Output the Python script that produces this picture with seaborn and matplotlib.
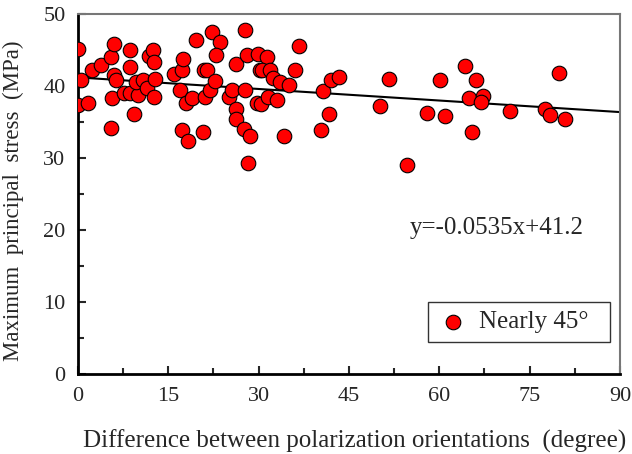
import numpy as np
import pandas as pd
import matplotlib
matplotlib.use("Agg")
import matplotlib.pyplot as plt
import seaborn as sns
from matplotlib.ticker import MultipleLocator

# datos
diff_deg = [0.05, 0.45, 0.0, 1.7, 2.4, 3.9, 5.4, 6.0, 5.9, 6.3, 5.6, 5.5, 7.6, 8.6, 9.9,
            8.7, 8.7, 9.3, 9.6, 10.8, 11.4, 11.8, 12.5, 12.7, 12.8, 12.6, 15.9, 17.2, 17.5,
            16.9, 17.9, 17.2, 18.3, 18.9, 19.6, 20.8, 20.9, 21.5, 21.1, 21.9, 22.8, 22.2,
            23.6, 22.9, 25.0, 25.5, 26.2, 26.3, 27.6, 28.6, 28.3, 27.8, 26.3, 28.0, 27.8,
            29.9, 29.7, 30.2, 31.4, 30.6, 31.9, 32.4, 33.6, 35.1, 36.7, 36.0, 30.4, 31.6,
            33.0, 34.2, 40.7, 41.6, 40.4, 42.0, 43.4, 50.2, 51.7, 54.6, 57.9, 60.1, 61.0,
            64.3, 66.1, 65.0, 67.3, 66.9, 65.4, 71.7, 77.6, 78.4, 79.9, 80.9]
max_stress = [45.1, 40.9, 37.4, 37.6, 42.2, 42.9, 44.0, 45.9, 41.5, 40.8, 38.4, 34.2, 39.0,
              39.1, 38.8, 45.0, 42.7, 36.1, 40.5, 40.8, 39.7, 44.2, 45.0, 43.3, 41.0, 38.5,
              41.7, 42.2, 43.7, 39.4, 37.7, 33.9, 32.3, 38.3, 46.4, 33.6, 42.3, 42.2, 38.5,
              39.4, 40.7, 47.5, 46.1, 44.3, 38.5, 39.4, 36.8, 35.4, 34.1, 33.0, 29.3, 47.8,
              43.0, 44.3, 39.5, 44.5, 37.6, 42.2, 44.1, 42.3, 42.3, 41.1, 40.6, 40.2, 45.6,
              42.3, 37.5, 38.5, 38.0, 33.0, 39.3, 36.1, 33.9, 40.8, 41.3, 37.2, 41.0, 29.0,
              36.3, 40.8, 35.8, 42.8, 40.8, 38.4, 38.6, 37.8, 33.6, 36.5, 36.8, 36.0, 41.8,
              35.4]
slope = -0.0535
intercept = 41.2
fit_x = [0, 90]

df = pd.DataFrame({"diff": diff_deg, "stress": max_stress})
fit = pd.DataFrame({"x": fit_x})
fit["y"] = slope * fit["x"] + intercept

sns.set_style("ticks")
plt.rcParams["font.family"] = ["Liberation Serif", "DejaVu Serif"]

fig = plt.figure(figsize=(6.32, 4.54), dpi=100)
ax = fig.add_axes([0.1234, 0.1762, 0.8576, 0.7928])

sns.lineplot(data=fit, x="x", y="y", color="black", linewidth=1.5, ax=ax, zorder=1)
sns.scatterplot(data=df, x="diff", y="stress", s=110, color="#ff0000", edgecolor="black",
                linewidth=0.8, ax=ax, zorder=3, label="Nearly 45°")

ax.set_xlim(0, 90)
ax.set_ylim(0, 50)
ax.xaxis.set_major_locator(MultipleLocator(15))
ax.xaxis.set_minor_locator(MultipleLocator(7.5))
ax.yaxis.set_major_locator(MultipleLocator(10))
ax.yaxis.set_minor_locator(MultipleLocator(5))
ax.tick_params(which="both", direction="in", labelsize=16, top=False, right=False, width=1.5)
ax.tick_params(which="major", length=6)
ax.tick_params(which="minor", length=4)
ax.tick_params(axis="x", pad=9)
ax.tick_params(axis="y", pad=9)

for side in ["left", "bottom"]:
    ax.spines[side].set_linewidth(2)
    ax.spines[side].set_color("black")
for side in ["top", "right"]:
    ax.spines[side].set_linewidth(1.5)
    ax.spines[side].set_color("#777777")

ax.set_xlabel("Difference between polarization orientations  (degree)", fontsize=18)
ax.set_ylabel("Maximum  principal  stress  (MPa)", fontsize=16.5)
ax.xaxis.set_label_coords(0.511, -0.155)
ax.yaxis.set_label_coords(-0.100, 0.48)

ax.text(69.6, 20.3, "y=-0.0535x+41.2", fontsize=18, ha="center", va="center")

leg = ax.legend(loc="lower left", bbox_to_anchor=(0.6458, 0.089, 0.3358, 0.125), mode="expand",
                borderaxespad=0, fontsize=18, frameon=True, fancybox=False, edgecolor="black",
                borderpad=0.35, handlelength=1.28, handletextpad=0.4)
leg.get_frame().set_linewidth(1.0)

fig.savefig("out.png", dpi=100)
